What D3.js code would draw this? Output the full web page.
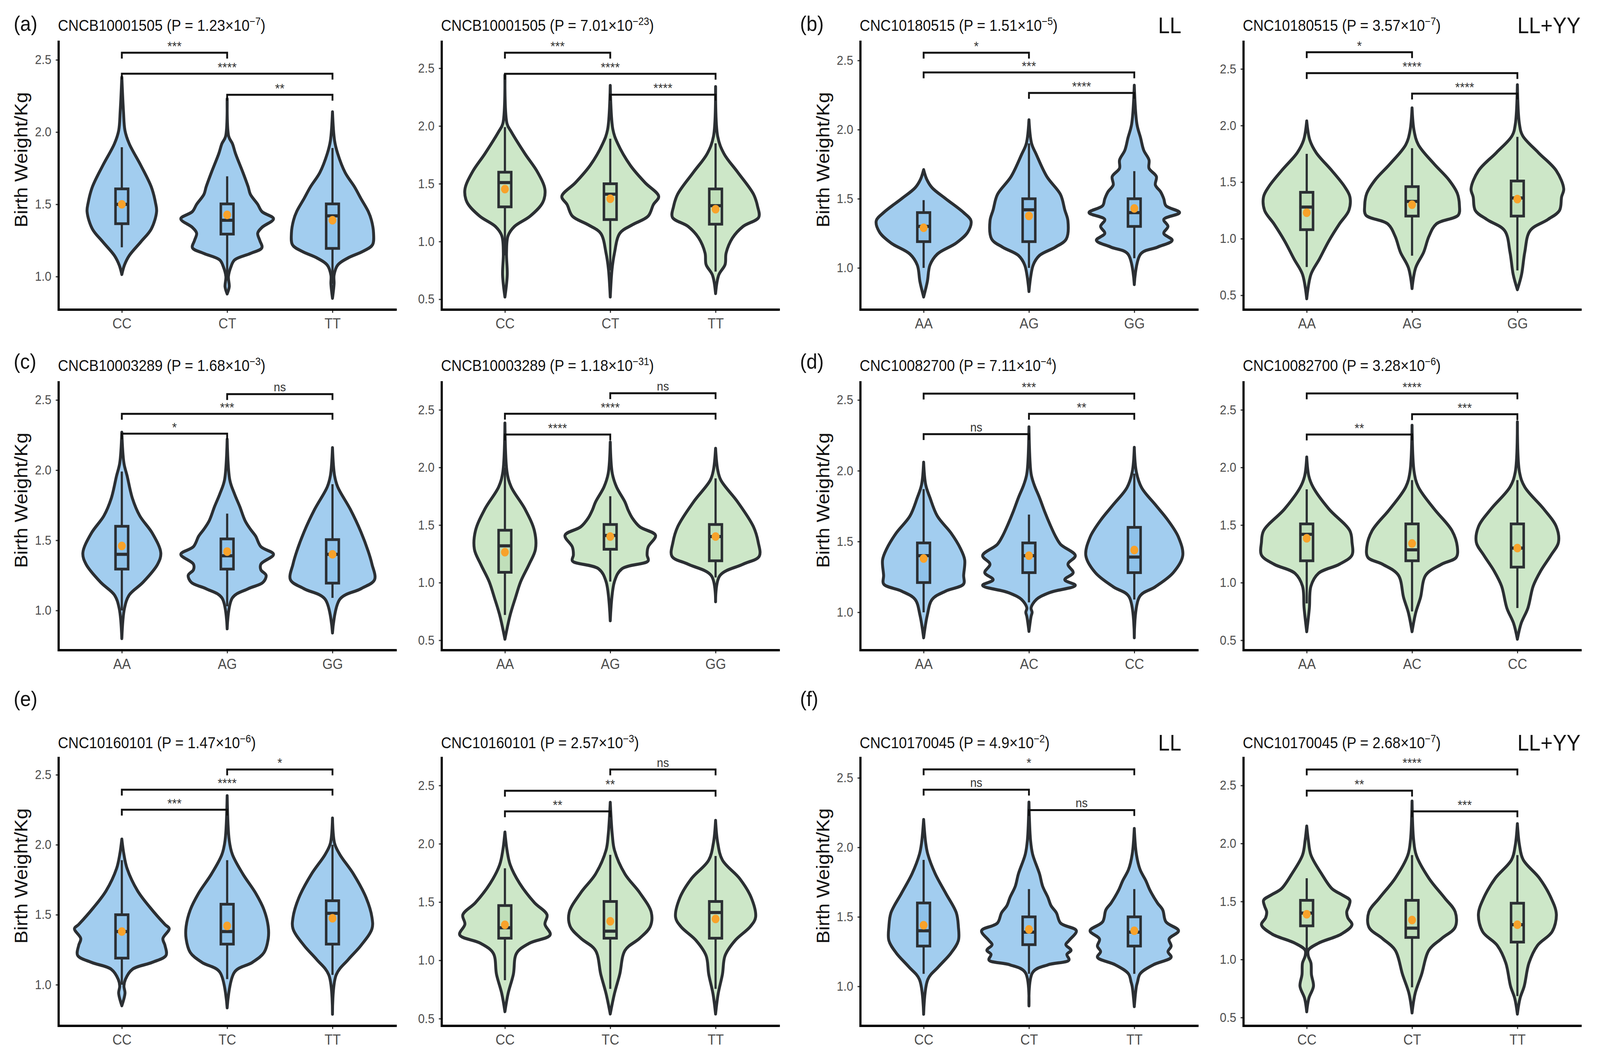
<!DOCTYPE html>
<html>
<head>
<meta charset="utf-8">
<script src="https://cdn.jsdelivr.net/npm/d3@7"></script>
<style>
  html, body { margin: 0; padding: 0; background: #fff; overflow: hidden; }
  #chart { display: block; width: 100vw; height: 100vh; }
  text { font-family: "Liberation Sans", Arial, sans-serif; }
</style>
</head>
<body>
<svg id="chart"></svg>
<script>
// ---- data ----
const panelLetters = ["(a)", "(b)", "(c)", "(d)", "(e)", "(f)"];
const snpIds = ["CNCB10001505", "CNCB10001505", "CNC10180515", "CNC10180515",
	"CNCB10003289", "CNCB10003289", "CNC10082700", "CNC10082700",
	"CNC10160101", "CNC10160101", "CNC10170045", "CNC10170045"];
const pMantissa = ["1.23", "7.01", "1.51", "3.57", "1.68", "1.18", "7.11", "3.28", "1.47", "2.57", "4.9", "2.68"];
const pExponent = ["7", "23", "5", "7", "3", "31", "4", "6", "6", "3", "2", "7"];
const panelTags = [null, null, "LL", "LL+YY", null, null, null, null, null, null, "LL", "LL+YY"];
const genotypes = [
	["CC", "CT", "TT"], ["CC", "CT", "TT"],
	["AA", "AG", "GG"], ["AA", "AG", "GG"],
	["AA", "AG", "GG"], ["AA", "AG", "GG"],
	["AA", "AC", "CC"], ["AA", "AC", "CC"],
	["CC", "TC", "TT"], ["CC", "TC", "TT"],
	["CC", "CT", "TT"], ["CC", "CT", "TT"]
];
const yDomains = [
	[0.771, 2.625], [0.41, 2.729], [0.698, 2.635], [0.373, 2.74],
	[0.717, 2.626], [0.414, 2.739], [0.732, 2.625], [0.414, 2.739],
	[0.706, 2.62], [0.438, 2.736], [0.716, 2.643], [0.428, 2.737]
];
const yTicksBlue = [1.0, 1.5, 2.0, 2.5];
const yTicksGreen = [0.5, 1.0, 1.5, 2.0, 2.5];

// violin outlines: [birth weight, half width as share of category step]
const violinA1 = [
	[[1.015,0],[1.08,0.025],[1.145,0.07],[1.24,0.18],[1.33,0.28],[1.45,0.33],[1.51,0.32],[1.62,0.28],[1.77,0.18],[1.92,0.07],[2.01,0.03],[2.15,0.015],[2.38,0]],
	[[0.88,0],[0.93,0.02],[1.0,0.012],[1.07,0.037],[1.115,0.07],[1.16,0.22],[1.2,0.33],[1.25,0.31],[1.3,0.29],[1.34,0.33],[1.4,0.44],[1.45,0.33],[1.5,0.29],[1.57,0.22],[1.62,0.2],[1.72,0.15],[1.85,0.08],[1.92,0.05],[1.97,0.015],[2.23,0]],
	[[0.85,0],[0.95,0.015],[1.01,0.015],[1.08,0.05],[1.13,0.15],[1.175,0.29],[1.22,0.38],[1.3,0.39],[1.39,0.37],[1.45,0.34],[1.54,0.27],[1.62,0.21],[1.72,0.12],[1.85,0.05],[1.94,0.02],[2.14,0]]
];
const violinA2 = [
	[[0.52,0],[0.71,0.022],[0.9,0.015],[1.05,0.03],[1.13,0.09],[1.22,0.24],[1.34,0.36],[1.45,0.38],[1.6,0.31],[1.76,0.19],[1.95,0.06],[2.02,0.02],[2.44,0]],
	[[0.52,0],[0.76,0.017],[0.9,0.04],[1.07,0.09],[1.145,0.21],[1.22,0.36],[1.32,0.41],[1.39,0.46],[1.51,0.33],[1.66,0.19],[1.85,0.07],[1.97,0.025],[2.35,0]],
	[[0.55,0],[0.71,0.03],[0.8,0.09],[0.9,0.1],[1.03,0.16],[1.13,0.26],[1.21,0.41],[1.3,0.4],[1.41,0.36],[1.6,0.21],[1.76,0.08],[1.91,0.02],[2.34,0]]
];
const violinB1 = [
	[[0.79,0],[0.9,0.035],[1.02,0.06],[1.1,0.13],[1.18,0.31],[1.26,0.42],[1.34,0.45],[1.4,0.38],[1.5,0.21],[1.58,0.08],[1.64,0.03],[1.71,0]],
	[[0.83,0],[1.02,0.04],[1.09,0.1],[1.15,0.25],[1.21,0.355],[1.34,0.37],[1.42,0.34],[1.53,0.3],[1.66,0.17],[1.82,0.07],[1.9,0.025],[2.07,0]],
	[[0.88,0],[1.1,0.06],[1.15,0.22],[1.2,0.36],[1.25,0.28],[1.3,0.32],[1.35,0.28],[1.4,0.43],[1.45,0.3],[1.5,0.28],[1.55,0.25],[1.6,0.2],[1.66,0.21],[1.72,0.14],[1.78,0.14],[1.85,0.09],[1.94,0.06],[2.04,0.025],[2.32,0]]
];
const violinB2 = [
	[[0.47,0],[0.685,0.04],[0.82,0.12],[0.98,0.21],[1.13,0.31],[1.25,0.4],[1.37,0.41],[1.46,0.36],[1.6,0.24],[1.76,0.09],[1.87,0.03],[2.04,0]],
	[[0.56,0],[0.745,0.035],[0.88,0.11],[1.02,0.16],[1.13,0.23],[1.21,0.44],[1.29,0.45],[1.4,0.43],[1.52,0.35],[1.66,0.21],[1.83,0.06],[1.95,0.02],[2.155,0]],
	[[0.55,0],[0.685,0.04],[0.88,0.07],[1.07,0.12],[1.17,0.29],[1.25,0.4],[1.37,0.42],[1.44,0.44],[1.6,0.37],[1.76,0.2],[1.91,0.05],[2.01,0.02],[2.36,0]]
];
const violinC1 = [
	[[0.8,0],[1.015,0.025],[1.11,0.07],[1.2,0.2],[1.33,0.34],[1.41,0.37],[1.55,0.29],[1.675,0.17],[1.8,0.1],[1.96,0.05],[2.05,0.02],[2.27,0]],
	[[0.87,0],[1.09,0.05],[1.155,0.2],[1.2,0.34],[1.25,0.37],[1.29,0.32],[1.33,0.32],[1.4,0.44],[1.455,0.32],[1.53,0.27],[1.58,0.22],[1.64,0.17],[1.74,0.12],[1.83,0.07],[1.93,0.025],[2.22,0]],
	[[0.84,0],[1.08,0.07],[1.155,0.27],[1.22,0.4],[1.33,0.375],[1.42,0.34],[1.56,0.27],[1.72,0.17],[1.88,0.05],[1.96,0.02],[2.16,0]]
];
const violinC2 = [
	[[0.51,0],[0.72,0.05],[0.87,0.1],[1.01,0.15],[1.16,0.23],[1.29,0.29],[1.45,0.28],[1.64,0.19],[1.83,0.06],[1.96,0.02],[2.385,0]],
	[[0.67,0],[1.01,0.04],[1.12,0.11],[1.19,0.36],[1.24,0.35],[1.31,0.36],[1.41,0.43],[1.485,0.28],[1.56,0.21],[1.63,0.17],[1.7,0.14],[1.83,0.06],[1.945,0.02],[2.22,0]],
	[[0.835,0],[1.06,0.04],[1.16,0.26],[1.23,0.415],[1.35,0.405],[1.485,0.36],[1.7,0.21],[1.89,0.05],[1.98,0.02],[2.165,0]]
];
const violinD1 = [
	[[0.82,0],[0.98,0.035],[1.09,0.08],[1.15,0.21],[1.2,0.38],[1.26,0.38],[1.37,0.39],[1.45,0.35],[1.56,0.26],[1.68,0.13],[1.81,0.06],[1.9,0.02],[2.06,0]],
	[[0.865,0],[0.97,0.02],[1.0,0.03],[1.03,0.02],[1.09,0.07],[1.14,0.2],[1.19,0.44],[1.23,0.34],[1.28,0.42],[1.34,0.37],[1.4,0.44],[1.48,0.3],[1.54,0.25],[1.62,0.2],[1.71,0.15],[1.81,0.1],[1.9,0.05],[1.98,0.02],[2.31,0]],
	[[0.82,0],[1.11,0.05],[1.18,0.2],[1.28,0.37],[1.4,0.46],[1.53,0.42],[1.65,0.32],[1.76,0.2],[1.88,0.07],[1.99,0.02],[2.165,0]]
];
const violinD2 = [
	[[0.575,0],[0.78,0.025],[0.97,0.04],[1.08,0.11],[1.16,0.31],[1.24,0.43],[1.35,0.43],[1.45,0.41],[1.64,0.21],[1.83,0.06],[1.925,0.02],[2.09,0]],
	[[0.575,0],[0.74,0.035],[0.87,0.08],[1.065,0.13],[1.16,0.28],[1.22,0.42],[1.31,0.43],[1.45,0.38],[1.64,0.21],[1.83,0.06],[1.96,0.02],[2.365,0]],
	[[0.51,0],[0.645,0.035],[0.78,0.1],[0.97,0.15],[1.1,0.22],[1.24,0.32],[1.35,0.39],[1.485,0.37],[1.64,0.25],[1.83,0.07],[1.96,0.02],[2.395,0]]
];
const violinE1 = [
	[[0.85,0],[0.94,0.03],[0.99,0.02],[1.04,0.035],[1.11,0.1],[1.16,0.29],[1.21,0.42],[1.28,0.41],[1.33,0.39],[1.4,0.45],[1.43,0.41],[1.55,0.27],[1.67,0.15],[1.83,0.05],[1.93,0.02],[2.04,0]],
	[[0.835,0],[1.09,0.07],[1.16,0.24],[1.23,0.35],[1.33,0.39],[1.415,0.39],[1.535,0.35],[1.655,0.27],[1.79,0.15],[1.93,0.05],[2.03,0.02],[2.35,0]],
	[[0.79,0],[1.07,0.035],[1.18,0.15],[1.28,0.27],[1.4,0.375],[1.48,0.375],[1.62,0.32],[1.79,0.2],[1.93,0.07],[2.01,0.02],[2.19,0]]
];
const violinE2 = [
	[[0.56,0],[0.715,0.03],[0.88,0.08],[1.06,0.11],[1.146,0.23],[1.22,0.43],[1.31,0.38],[1.39,0.4],[1.495,0.28],[1.66,0.14],[1.82,0.05],[1.945,0.02],[2.1,0]],
	[[0.54,0],[0.715,0.04],[0.88,0.09],[1.085,0.14],[1.19,0.28],[1.29,0.38],[1.41,0.39],[1.58,0.28],[1.74,0.14],[1.945,0.04],[2.07,0.02],[2.355,0]],
	[[0.54,0],[0.715,0.025],[0.88,0.065],[1.04,0.09],[1.17,0.185],[1.29,0.33],[1.37,0.38],[1.535,0.34],[1.7,0.23],[1.86,0.065],[2.01,0.02],[2.2,0]]
];
const violinF1 = [
	[[0.8,0],[1.05,0.04],[1.14,0.14],[1.24,0.26],[1.33,0.33],[1.43,0.33],[1.53,0.31],[1.67,0.21],[1.81,0.11],[1.95,0.04],[2.03,0.02],[2.2,0]],
	[[0.86,0],[1.1,0.035],[1.155,0.18],[1.19,0.38],[1.23,0.36],[1.26,0.4],[1.3,0.35],[1.33,0.38],[1.4,0.45],[1.455,0.3],[1.53,0.26],[1.58,0.21],[1.64,0.18],[1.72,0.13],[1.81,0.1],[1.95,0.035],[2.05,0.015],[2.325,0]],
	[[0.855,0],[1.0,0.02],[1.03,0.03],[1.09,0.055],[1.155,0.18],[1.21,0.35],[1.25,0.32],[1.29,0.35],[1.34,0.33],[1.4,0.42],[1.465,0.3],[1.55,0.27],[1.6,0.22],[1.69,0.15],[1.76,0.11],[1.84,0.055],[1.95,0.02],[2.135,0]]
];
const violinF2 = [
	[[0.55,0],[0.665,0.02],[0.77,0.064],[0.87,0.045],[0.97,0.04],[1.03,0.015],[1.08,0.015],[1.14,0.11],[1.22,0.33],[1.3,0.43],[1.36,0.39],[1.41,0.38],[1.46,0.4],[1.51,0.41],[1.56,0.33],[1.61,0.24],[1.74,0.14],[1.9,0.04],[2.03,0.015],[2.15,0]],
	[[0.54,0],[0.71,0.03],[0.87,0.09],[1.08,0.16],[1.18,0.28],[1.28,0.41],[1.41,0.41],[1.53,0.31],[1.7,0.16],[1.9,0.04],[2.03,0.015],[2.365,0]],
	[[0.53,0],[0.665,0.025],[0.77,0.065],[0.97,0.11],[1.12,0.19],[1.24,0.33],[1.39,0.37],[1.53,0.32],[1.7,0.21],[1.86,0.055],[1.985,0.02],[2.17,0]]
];
const violins = [violinA1, violinA2, violinB1, violinB2, violinC1, violinC2,
	violinD1, violinD2, violinE1, violinE2, violinF1, violinF2];

// box stats per genotype: [lower whisker, Q1, median, Q3, upper whisker]
const boxStats = [
	[[1.203,1.366,1.5,1.607,1.895],[1.0,1.294,1.39,1.503,1.694],[0.95,1.195,1.42,1.503,1.89]],
	[[0.88,1.3,1.51,1.6,1.99],[0.75,1.19,1.41,1.5,1.89],[0.74,1.15,1.31,1.455,1.85]],
	[[1.0,1.19,1.3,1.4,1.49],[1.0,1.19,1.42,1.5,1.9],[1.07,1.3,1.4,1.5,1.7]],
	[[0.75,1.08,1.28,1.41,1.75],[0.85,1.2,1.33,1.46,1.8],[0.72,1.2,1.36,1.51,1.9]],
	[[1.0,1.295,1.4,1.6,1.99],[1.03,1.295,1.39,1.51,1.69],[1.09,1.195,1.4,1.505,1.9]],
	[[0.72,1.09,1.32,1.455,2.0],[1.01,1.29,1.41,1.505,1.75],[1.045,1.19,1.4,1.505,1.905]],
	[[1.0,1.21,1.4,1.49,1.87],[1.07,1.28,1.4,1.49,1.69],[1.09,1.28,1.39,1.6,1.98]],
	[[0.82,1.19,1.42,1.51,1.81],[0.75,1.19,1.285,1.51,1.89],[0.78,1.135,1.3,1.51,1.89]],
	[[1.0,1.19,1.38,1.5,1.89],[1.04,1.29,1.38,1.575,1.89],[1.07,1.29,1.51,1.6,2.0]],
	[[0.83,1.19,1.28,1.47,1.79],[0.755,1.19,1.25,1.505,1.905],[0.755,1.19,1.41,1.505,1.895]],
	[[1.09,1.29,1.4,1.6,1.91],[1.09,1.3,1.39,1.5,1.7],[1.09,1.29,1.39,1.5,1.7]],
	[[1.08,1.29,1.4,1.51,1.7],[0.76,1.19,1.27,1.51,1.9],[0.685,1.15,1.3,1.485,1.9]]
];
const groupMeans = [
	[1.5, 1.427, 1.39], [1.454, 1.37, 1.28], [1.29, 1.376, 1.43], [1.23, 1.3, 1.35],
	[1.46, 1.42, 1.4], [1.265, 1.4, 1.4], [1.38, 1.4, 1.44], [1.385, 1.34, 1.3],
	[1.38, 1.42, 1.475], [1.305, 1.335, 1.355], [1.44, 1.41, 1.4], [1.39, 1.34, 1.3]
];
// significance brackets: [from group, to group, bracket height, label]
const brackets = [
	[[0,1,2.549,"***"],[0,2,2.404,"****"],[1,2,2.258,"**"]],
	[[0,1,2.634,"***"],[0,2,2.452,"****"],[1,2,2.271,"****"]],
	[[0,1,2.556,"*"],[0,2,2.413,"***"],[1,2,2.265,"****"]],
	[[0,1,2.648,"*"],[0,2,2.463,"****"],[1,2,2.282,"****"]],
	[[1,2,2.542,"ns"],[0,2,2.401,"***"],[0,1,2.26,"*"]],
	[[1,2,2.644,"ns"],[0,2,2.466,"****"],[0,1,2.286,"****"]],
	[[0,2,2.545,"***"],[1,2,2.402,"**"],[0,1,2.259,"ns"]],
	[[0,2,2.642,"****"],[1,2,2.462,"***"],[0,1,2.286,"**"]],
	[[1,2,2.538,"*"],[0,2,2.393,"****"],[0,1,2.25,"***"]],
	[[1,2,2.637,"ns"],[0,2,2.455,"**"],[0,1,2.278,"**"]],
	[[0,2,2.561,"*"],[0,1,2.415,"ns"],[1,2,2.268,"ns"]],
	[[0,2,2.638,"****"],[0,1,2.455,"**"],[1,2,2.277,"***"]]
];

// ---- layout ----
const width = 4448, height = 2717;
const colX = [163, 1228, 2392, 3457];
const rowTop = [107, 979, 1941];
const titleY = [79, 950, 1916];
const letterY = [79, 944, 1808];
const letterX = [38, 2224];
const plotW = 937, plotH = 686;
const fills = { blue: "#a2cdef", green: "#cde7c8" };
const boxFills = { blue: "#8ec2ea", green: "#c0dfba" };
const ink = "#2b2f33";

// scale the drawing to whatever viewport the page gets
const svg = d3.select("#chart")
	.attr("viewBox", `0 0 ${width} ${height}`)
	.attr("preserveAspectRatio", "none");

svg.append("rect").attr("width", width).attr("height", height).attr("fill", "#fff");

// panel letters
panelLetters.forEach((l, k) => {
	svg.append("text")
		.attr("x", letterX[k % 2])
		.attr("y", letterY[Math.floor(k / 2)])
		.attr("font-size", 54)
		.attr("fill", "#111")
		.text(l);
});

snpIds.forEach((id, i) => {
	const k = Math.floor(i / 2);
	const row = Math.floor(k / 2);
	const col = (k % 2) * 2 + (i % 2);
	const green = i % 2 === 1;
	const x0 = colX[col], y0 = rowTop[row];

	// title with superscript exponent
	const title = svg.append("text")
		.attr("x", x0 - 2)
		.attr("y", titleY[row])
		.attr("font-size", 40)
		.attr("fill", "#111");
	title.append("tspan").text(`${id} (P = ${pMantissa[i]}×10`);
	title.append("tspan").attr("font-size", 27).attr("dy", -15).text(`−${pExponent[i]}`);
	title.append("tspan").attr("dy", 15).text(")");

	if (panelTags[i]) {
		svg.append("text")
			.attr("x", x0 + plotW + (green ? 0 : -45))
			.attr("y", titleY[row] + 6)
			.attr("text-anchor", "end")
			.attr("font-size", 58)
			.attr("fill", "#111")
			.text(panelTags[i]);
	}

	const g = svg.append("g").attr("transform", `translate(${x0},${y0})`);

	const x = d3.scalePoint().domain(genotypes[i]).range([0, plotW]).padding(0.6);
	const step = x.step();
	const y = d3.scaleLinear().domain(yDomains[i]).range([plotH, 0]);

	// violins
	violins[i].forEach((shape, j) => {
		const cx = x(genotypes[i][j]);
		const area = d3.area()
			.y((d) => y(d[0]))
			.x0((d) => cx - d[1] * step)
			.x1((d) => cx + d[1] * step)
			.curve(d3.curveCatmullRom.alpha(0.5));
		g.append("path")
			.attr("d", area(shape))
			.attr("fill", green ? fills.green : fills.blue)
			.attr("stroke", ink)
			.attr("stroke-width", 8)
			.attr("stroke-linejoin", "round");
	});

	// boxes
	const bw = 0.12 * step;
	boxStats[i].forEach((b, j) => {
		const cx = x(genotypes[i][j]);
		g.append("line")
			.attr("x1", cx).attr("x2", cx)
			.attr("y1", y(b[0])).attr("y2", y(b[4]))
			.attr("stroke", ink).attr("stroke-width", 6);
		g.append("rect")
			.attr("x", cx - bw / 2)
			.attr("y", y(b[3]))
			.attr("width", bw)
			.attr("height", y(b[1]) - y(b[3]))
			.attr("fill", green ? boxFills.green : boxFills.blue)
			.attr("stroke", ink)
			.attr("stroke-width", 7);
		g.append("line")
			.attr("x1", cx - bw / 2).attr("x2", cx + bw / 2)
			.attr("y1", y(b[2])).attr("y2", y(b[2]))
			.attr("stroke", ink).attr("stroke-width", 8);
		g.append("circle")
			.attr("cx", cx)
			.attr("cy", y(groupMeans[i][j]))
			.attr("r", 11)
			.attr("fill", "#f8a22a");
	});

	// significance brackets
	const tip = 15;
	brackets[i].forEach(([a, b, h, lab]) => {
		const xa = x(genotypes[i][a]), xb = x(genotypes[i][b]), yy = y(h);
		g.append("path")
			.attr("d", `M${xa},${yy + tip}V${yy}H${xb}V${yy + tip}`)
			.attr("fill", "none")
			.attr("stroke", "#111")
			.attr("stroke-width", 5);
		g.append("text")
			.attr("x", (xa + xb) / 2)
			.attr("y", yy - (lab === "ns" ? 7 : 5))
			.attr("text-anchor", "middle")
			.attr("font-size", lab === "ns" ? 32 : 34)
			.attr("fill", "#333")
			.text(lab);
	});

	// axes
	const yAxis = d3.axisLeft(y)
		.tickValues(green ? yTicksGreen : yTicksBlue)
		.tickFormat(d3.format(".1f"))
		.tickSize(8)
		.tickPadding(12);
	const ya = g.append("g").call(yAxis);
	ya.select(".domain").remove();
	ya.selectAll(".tick line").attr("stroke", "#333").attr("stroke-width", 3);
	ya.selectAll(".tick text")
		.attr("font-size", 33)
		.attr("fill", "#4d4d4d")
		.attr("font-family", "Liberation Sans, Arial, sans-serif");

	const xAxis = d3.axisBottom(x).tickSize(8).tickPadding(14);
	const xa = g.append("g").attr("transform", `translate(0,${plotH})`).call(xAxis);
	xa.select(".domain").remove();
	xa.selectAll(".tick line").attr("stroke", "#333").attr("stroke-width", 3);
	xa.selectAll(".tick text")
		.attr("font-size", 37)
		.attr("fill", "#4d4d4d")
		.attr("font-family", "Liberation Sans, Arial, sans-serif");

	g.append("path")
		.attr("d", `M0,0V${plotH}H${plotW}`)
		.attr("fill", "none")
		.attr("stroke", "#000")
		.attr("stroke-width", 6)
		.attr("stroke-linecap", "square");

	if (!green) {
		svg.append("text")
			.attr("transform", `translate(${x0 - 87},${y0 + 302}) rotate(-90)`)
			.attr("text-anchor", "middle")
			.attr("font-size", 50)
			.attr("fill", "#111")
			.text("Birth Weight/Kg");
	}
});
</script>
</body>
</html>
